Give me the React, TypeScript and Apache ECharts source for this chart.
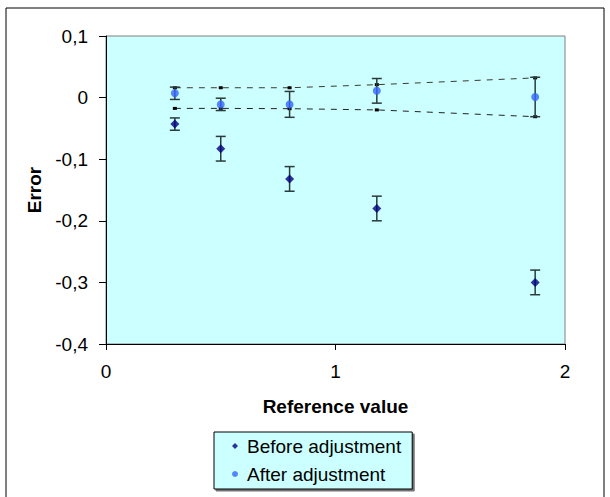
import React, { useEffect, useRef } from "react";
import * as echarts from "echarts";

const refValues = [0.3, 0.5, 0.8, 1.18, 1.87];
const beforeErr = [-0.043, -0.083, -0.132, -0.18, -0.3];
const beforeBar = [0.01, 0.02, 0.02, 0.02, 0.02];
const afterErr = [0.007, -0.011, -0.011, 0.011, 0.001];
const afterBar = [0.01, 0.01, 0.021, 0.02, 0.032];
const upperLimit = [0.016, 0.016, 0.016, 0.021, 0.032];
const lowerLimit = [-0.0175, -0.0175, -0.018, -0.02, -0.031];

const FONT = "Liberation Sans, Arial, sans-serif";

function errorBars(vals: number[], bars: number[]) {
  return refValues.map((x, i) => [x, vals[i] - bars[i], vals[i] + bars[i]]);
}

function renderErr(params: any, api: any) {
  const x = api.value(0);
  const lo = api.coord([x, api.value(1)]);
  const hi = api.coord([x, api.value(2)]);
  const w = 5;
  const style = { stroke: "#2b3a3a", lineWidth: 1.5 };
  return {
    type: "group",
    children: [
      { type: "line", shape: { x1: lo[0], y1: lo[1], x2: hi[0], y2: hi[1] }, style },
      { type: "line", shape: { x1: lo[0] - w, y1: lo[1], x2: lo[0] + w, y2: lo[1] }, style },
      { type: "line", shape: { x1: hi[0] - w, y1: hi[1], x2: hi[0] + w, y2: hi[1] }, style },
    ],
  };
}

export default function App() {
  const ref = useRef<HTMLDivElement>(null);
  useEffect(() => {
    if (!ref.current) return;
    const chart = echarts.init(ref.current, null, { renderer: "svg" });
    const fmt = (v: number) => (Math.abs(v) < 1e-9 ? "0" : v.toFixed(1).replace(".", ","));
    chart.setOption({
      animation: false,
      backgroundColor: "#ffffff",
      textStyle: { fontFamily: FONT },
      graphic: [
        {
          type: "rect",
          shape: { x: 6, y: 8, width: 598, height: 500 },
          style: { fill: "none", stroke: "#000", lineWidth: 1 },
          z: -1,
        },
      ],
      grid: {
        left: 106,
        top: 36,
        width: 459,
        height: 308,
        show: true,
        backgroundColor: "#CCFFFF",
        borderColor: "#808080",
        borderWidth: 1,
      },
      xAxis: {
        type: "value",
        min: 0,
        max: 2,
        interval: 1,
        name: "Reference value",
        nameLocation: "middle",
        nameGap: 62,
        nameTextStyle: { fontWeight: "bold", fontSize: 19, color: "#000", fontFamily: FONT, verticalAlign: "middle" },
        axisLine: { show: true, onZero: false, lineStyle: { color: "#000" } },
        axisTick: { show: true, length: 6, lineStyle: { color: "#000" } },
        axisLabel: { color: "#000", fontSize: 19, margin: 18, fontFamily: FONT },
        splitLine: { show: false },
      },
      yAxis: {
        type: "value",
        min: -0.4,
        max: 0.1,
        interval: 0.1,
        name: "Error",
        nameLocation: "middle",
        nameRotate: 90,
        nameGap: 67,
        nameTextStyle: { fontWeight: "bold", fontSize: 19, color: "#000", fontFamily: FONT, verticalAlign: "middle" },
        axisLine: { show: true, onZero: false, lineStyle: { color: "#000" } },
        axisTick: { show: true, length: 7, lineStyle: { color: "#000" } },
        axisLabel: { color: "#000", fontSize: 19, margin: 18, formatter: fmt, fontFamily: FONT },
        splitLine: { show: false },
      },
      legend: {
        data: ["Before adjustment", "After adjustment"],
        orient: "vertical",
        left: 214,
        top: 432,
        itemWidth: 6,
        itemHeight: 6,
        itemGap: 8,
        padding: [4, 11, 5, 18],
        backgroundColor: "#CCFFFF",
        borderColor: "#000",
        borderWidth: 1,
        shadowColor: "rgba(0,0,0,0.55)",
        shadowOffsetX: 2,
        shadowOffsetY: 2,
        textStyle: { color: "#000", fontSize: 19, lineHeight: 20, fontFamily: FONT, padding: [0, 0, 0, 4] },
      },
      series: [
        {
          name: "upper",
          type: "line",
          data: refValues.map((x, i) => [x, upperLimit[i]]),
          symbol: "rect",
          symbolSize: [4, 3],
          itemStyle: { color: "#000" },
          lineStyle: { color: "#3a3a2a", width: 1, type: [6, 6] },
          z: 2,
        },
        {
          name: "lower",
          type: "line",
          data: refValues.map((x, i) => [x, lowerLimit[i]]),
          symbol: "rect",
          symbolSize: [4, 3],
          itemStyle: { color: "#000" },
          lineStyle: { color: "#222", width: 1, type: [6, 6] },
          z: 2,
        },
        {
          name: "beforeErr",
          type: "custom",
          renderItem: renderErr,
          data: errorBars(beforeErr, beforeBar),
          encode: { x: 0, y: [1, 2] },
          z: 3,
        },
        {
          name: "afterErr",
          type: "custom",
          renderItem: renderErr,
          data: errorBars(afterErr, afterBar),
          encode: { x: 0, y: [1, 2] },
          z: 3,
        },
        {
          name: "Before adjustment",
          type: "scatter",
          data: refValues.map((x, i) => [x, beforeErr[i]]),
          symbol: "diamond",
          symbolSize: 9,
          itemStyle: { color: "#000080" },
          z: 4,
        },
        {
          name: "After adjustment",
          type: "scatter",
          data: refValues.map((x, i) => [x, afterErr[i]]),
          symbol: "circle",
          symbolSize: 8,
          itemStyle: { color: "#3366FF" },
          z: 4,
        },
      ],
    });
    return () => chart.dispose();
  }, []);
  return (
    <div
      ref={ref}
      style={{ position: "fixed", left: 0, top: 0, width: 610, height: 497 }}
    />
  );
}
